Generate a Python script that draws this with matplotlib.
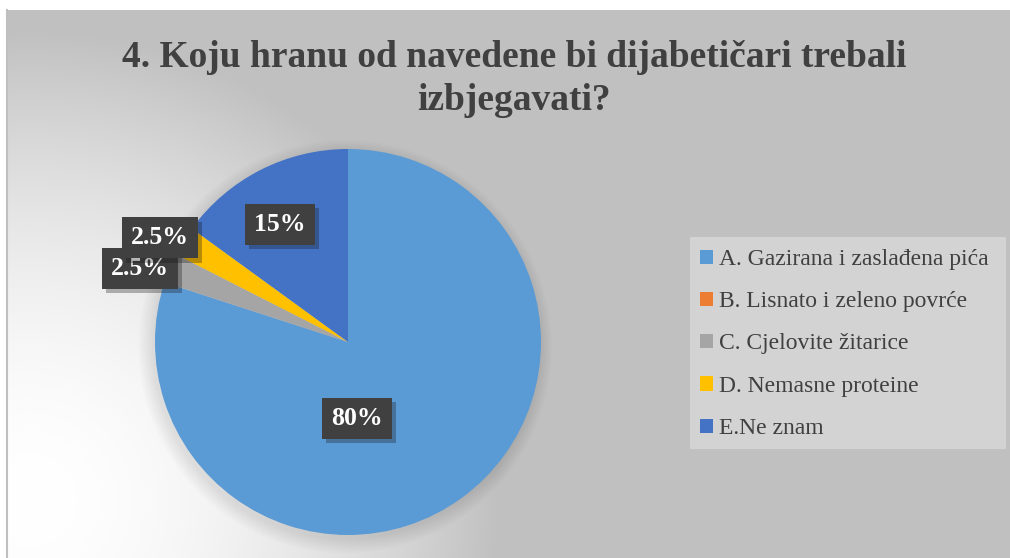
import matplotlib
matplotlib.use('Agg')
import matplotlib.pyplot as plt
import numpy as np
from matplotlib.patches import Rectangle, Circle
import matplotlib.patheffects as pe

categories = ["A. Gazirana i zaslađena pića", "B. Lisnato i zeleno povrće",
              "C. Cjelovite žitarice", "D. Nemasne proteine", "E.Ne znam"]
values = [80, 0, 2.5, 2.5, 15]
value_labels = ["80%", "", "2.5%", "2.5%", "15%"]
colors = ["#5B9BD5", "#ED7D31", "#A5A5A5", "#FFC000", "#4472C4"]
title_lines = ["4. Koju hranu od navedene bi dijabetičari trebali", "izbjegavati?"]

# label placements (in pie-radius units, relative to the pie centre)
label_pos = [(0.047, -0.394), None, (-1.078, 0.383), (-0.974, 0.539), (-0.352, 0.611)]

W, H = 1010, 558
fig = plt.figure(figsize=(W / 100, H / 100), dpi=100)
fig.patch.set_facecolor('white')

bg = fig.add_axes([0, 0, 1, 1])
x0, y0 = 7, 10
xs = np.arange(x0, W) + 0.5
ys = np.arange(y0, H) + 0.5
X, Y = np.meshgrid(xs, ys)
d = np.hypot(X - 30, Y - 500)
frac = np.clip(d / 470, 0, 1) ** 1.8
val = (255 - (255 - 192) * frac) / 255
img = np.dstack([val, val, val])
bg.imshow(img, extent=(x0, W, H, y0), origin='upper', interpolation='bilinear', aspect='auto', zorder=0)
bg.plot([x0, x0], [y0, H], color='#BFBFBF', lw=1.5, zorder=1)
bg.add_patch(Rectangle((690, 237), 316, 212, facecolor='#D3D3D3', edgecolor='none', zorder=2))
bg.set_xlim(0, W)
bg.set_ylim(H, 0)
bg.axis('off')

# title, baselines placed line by line
for i, line in enumerate(title_lines):
    bg.text(514, 67 + 43 * i, line, ha='center', va='baseline', fontsize=27, fontweight='bold',
            family='Liberation Serif', color='#404040', zorder=3)

cx, cy, R = 348, 342, 193
pax = fig.add_axes([(cx - R) / W, (H - cy - R) / H, 2 * R / W, 2 * R / H])
pax.patch.set_alpha(0)
for k in range(8):
    pax.add_patch(Circle((-0.015, -0.025), 1 + k * 0.01, color='black', alpha=0.012,
                         lw=0, clip_on=False, zorder=0))
wedges, _ = pax.pie(values, colors=colors, startangle=90, counterclock=False, radius=1,
                    wedgeprops=dict(linewidth=0))
for w in wedges:
    w.set_zorder(2)
pax.set_xlim(-1, 1)
pax.set_ylim(-1, 1)
pax.axis('off')

for lab, pos in zip(value_labels, label_pos):
    if not lab or pos is None:
        continue
    t = pax.text(pos[0], pos[1], lab, ha='center', va='center', color='white',
                 fontsize=18.5, fontweight='bold', family='Liberation Serif', zorder=5,
                 bbox=dict(boxstyle='square,pad=0.35', facecolor='#404040', edgecolor='none'))
    t.get_bbox_patch().set_path_effects([pe.SimplePatchShadow(offset=(3, -3), alpha=0.3), pe.Normal()])

fig.legend(wedges, categories, loc='upper left', bbox_to_anchor=(700 / W, 1 - 249 / H),
           frameon=False, prop=dict(family='Liberation Serif', size=17), labelcolor='#404040',
           handlelength=0.55, handleheight=0.55, handletextpad=0.25, labelspacing=0.9,
           borderpad=0, borderaxespad=0)

fig.savefig('out.png', dpi=100, facecolor='white')
